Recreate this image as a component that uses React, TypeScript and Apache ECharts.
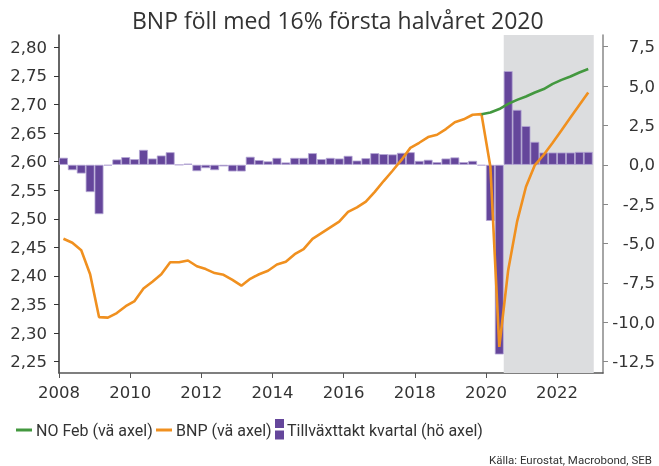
import React, { useEffect, useRef } from "react";
import * as echarts from "echarts";

const TITLE = "BNP föll med 16% första halvåret 2020";
const SOURCE = "Källa: Eurostat, Macrobond, SEB";
const START_YEAR = 2008;

// Quarterly growth (right axis), 2008Q1 .. 2022Q4
const GROWTH = [
  0.45, -0.34, -0.55, -1.73,
  -3.13, -0.05, 0.34, 0.49,
  0.36, 0.95, 0.40, 0.59,
  0.80, 0.0, 0.08, -0.40,
  -0.21, -0.34, -0.10, -0.42,
  -0.42, 0.51, 0.30, 0.22,
  0.44, 0.15, 0.44, 0.44,
  0.74, 0.36, 0.44, 0.40,
  0.57, 0.27, 0.42, 0.74,
  0.68, 0.66, 0.76, 0.80,
  0.25, 0.32, 0.17, 0.40,
  0.47, 0.17, 0.25, -0.05,
  -3.56, -12.04, 5.95, 3.49,
  2.46, 1.46, 0.78, 0.78,
  0.78, 0.78, 0.82, 0.82,
];

// BNP level (left axis), 2008Q1 .. 2022Q4
const BNP = [
  2.465, 2.458, 2.445, 2.403,
  2.328, 2.327, 2.335, 2.347,
  2.356, 2.378, 2.390, 2.403,
  2.424, 2.424, 2.427, 2.417,
  2.412, 2.405, 2.402, 2.393,
  2.383, 2.395, 2.403, 2.409,
  2.420, 2.425, 2.438, 2.447,
  2.465, 2.475, 2.485, 2.495,
  2.512, 2.520, 2.530, 2.547,
  2.566, 2.584, 2.603, 2.624,
  2.633, 2.643, 2.647, 2.657,
  2.669, 2.674, 2.682, 2.683,
  2.591, 2.276, 2.410, 2.495,
  2.556, 2.594, 2.612, 2.633,
  2.655, 2.677, 2.699, 2.721,
];

// NO Feb (left axis), starting 2019Q4 (quarter index 47)
const NO_FEB_START_INDEX = 47;
const NO_FEB = [2.683, 2.686, 2.692, 2.701, 2.708, 2.714, 2.721, 2.727, 2.736, 2.743, 2.749, 2.756, 2.762];

const LEFT_TICKS = [2.25, 2.3, 2.35, 2.4, 2.45, 2.5, 2.55, 2.6, 2.65, 2.7, 2.75, 2.8];
const RIGHT_TICKS = [-12.5, -10, -7.5, -5, -2.5, 0, 2.5, 5, 7.5];
const YEAR_TICKS = [2008, 2010, 2012, 2014, 2016, 2018, 2020, 2022];
const SHADE_FROM = 2020.5;
const SHADE_TO = 2023.03;

const LEGEND_NAMES = ["NO Feb (vä axel)", "BNP (vä axel)", "Tillväxttakt kvartal (hö axel)"];

const C_GREEN = "#43983f";
const C_ORANGE = "#f0901f";
const C_PURPLE = "#65469b";
const TICK_FONT = "DejaVu Sans";
const TEXT_FONT = "Roboto";
const TITLE_FONT = "Open Sans";

const qx = (i: number) => START_YEAR + (i + 0.5) / 4;

export default function App() {
  const ref = useRef<HTMLDivElement>(null);
  useEffect(() => {
    if (!ref.current) return;
    const chart = echarts.init(ref.current, undefined, { renderer: "svg" });
    const tickLabel = { fontFamily: TICK_FONT, fontSize: 16.5, color: "#333" };
    const legendFont = `16px ${TEXT_FONT}`;
    chart.setOption({
      animation: false,
      title: {
        text: TITLE,
        left: 127,
        top: 3,
        textStyle: { fontFamily: TITLE_FONT, fontSize: 23, fontWeight: "normal", color: "#333" },
      },
      grid: { left: 59, right: 56, top: 35, bottom: 93 },
      xAxis: {
        type: "value",
        min: 2008,
        max: 2023.29,
        axisLine: { show: true, onZero: false, lineStyle: { color: "#555", width: 1.5 } },
        axisTick: { show: true, length: 5, customValues: YEAR_TICKS, lineStyle: { color: "#555" } },
        axisLabel: { ...tickLabel, customValues: YEAR_TICKS, margin: 11, formatter: (v: number) => String(v) },
        splitLine: { show: false },
      },
      yAxis: [
        {
          type: "value",
          position: "left",
          min: 2.2302,
          max: 2.8215,
          axisLine: { show: true, onZero: false, lineStyle: { color: "#333", width: 1.5 } },
          axisTick: { show: true, length: 5, customValues: LEFT_TICKS, lineStyle: { color: "#333" } },
          axisLabel: {
            ...tickLabel,
            customValues: LEFT_TICKS,
            margin: 12,
            formatter: (v: number) => v.toFixed(2).replace(".", ","),
          },
          splitLine: { show: false },
        },
        {
          type: "value",
          position: "right",
          min: -13.217,
          max: 8.243,
          axisLine: { show: true, onZero: false, lineStyle: { color: "#888", width: 1.5 } },
          axisTick: { show: true, length: 5, customValues: RIGHT_TICKS, lineStyle: { color: "#888" } },
          axisLabel: {
            ...tickLabel,
            customValues: RIGHT_TICKS,
            align: "right",
            margin: 52,
            formatter: (v: number) => v.toFixed(1).replace(".", ","),
          },
          splitLine: { show: false },
        },
      ],
      series: [
        {
          name: LEGEND_NAMES[2],
          type: "bar",
          yAxisIndex: 1,
          barWidth: 8.9,
          z: 2,
          data: GROWTH.map((v, i) => [qx(i), v]),
          itemStyle: { color: C_PURPLE, borderColor: "#b4a6d4", borderWidth: 0.8 },
          markArea: {
            silent: true,
            z: 1,
            itemStyle: { color: "#dcdddf" },
            data: [[{ xAxis: SHADE_FROM }, { xAxis: SHADE_TO }]],
          },
        },
        {
          name: LEGEND_NAMES[1],
          type: "line",
          yAxisIndex: 0,
          z: 3,
          showSymbol: false,
          data: BNP.map((v, i) => [qx(i), v]),
          lineStyle: { color: C_ORANGE, width: 2.6 },
          itemStyle: { color: C_ORANGE },
        },
        {
          name: LEGEND_NAMES[0],
          type: "line",
          yAxisIndex: 0,
          z: 4,
          showSymbol: false,
          data: NO_FEB.map((v, i) => [qx(i + NO_FEB_START_INDEX), v]),
          lineStyle: { color: C_GREEN, width: 2.6 },
          itemStyle: { color: C_GREEN },
        },
      ],
      graphic: [
        { type: "line", shape: { x1: 16, y1: 430, x2: 32, y2: 430 }, style: { stroke: C_GREEN, lineWidth: 3 } },
        {
          type: "text",
          x: 36,
          y: 430,
          style: { text: LEGEND_NAMES[0], font: legendFont, fill: "#333", verticalAlign: "middle" },
        },
        { type: "line", shape: { x1: 156, y1: 430, x2: 172, y2: 430 }, style: { stroke: C_ORANGE, lineWidth: 3 } },
        {
          type: "text",
          x: 176,
          y: 430,
          style: { text: LEGEND_NAMES[1], font: legendFont, fill: "#333", verticalAlign: "middle" },
        },
        { type: "rect", shape: { x: 275, y: 419, width: 9, height: 9 }, style: { fill: C_PURPLE } },
        { type: "rect", shape: { x: 275, y: 430.5, width: 9, height: 9 }, style: { fill: C_PURPLE } },
        {
          type: "text",
          x: 287,
          y: 430,
          style: { text: LEGEND_NAMES[2], font: legendFont, fill: "#333", verticalAlign: "middle" },
        },
        {
          type: "text",
          right: 7,
          top: 454,
          style: { text: SOURCE, font: `11.5px ${TEXT_FONT}`, fill: "#333" },
        },
      ],
    });
    return () => chart.dispose();
  }, []);
  return <div ref={ref} style={{ position: "fixed", left: 0, top: 0, width: 659, height: 466 }} />;
}
